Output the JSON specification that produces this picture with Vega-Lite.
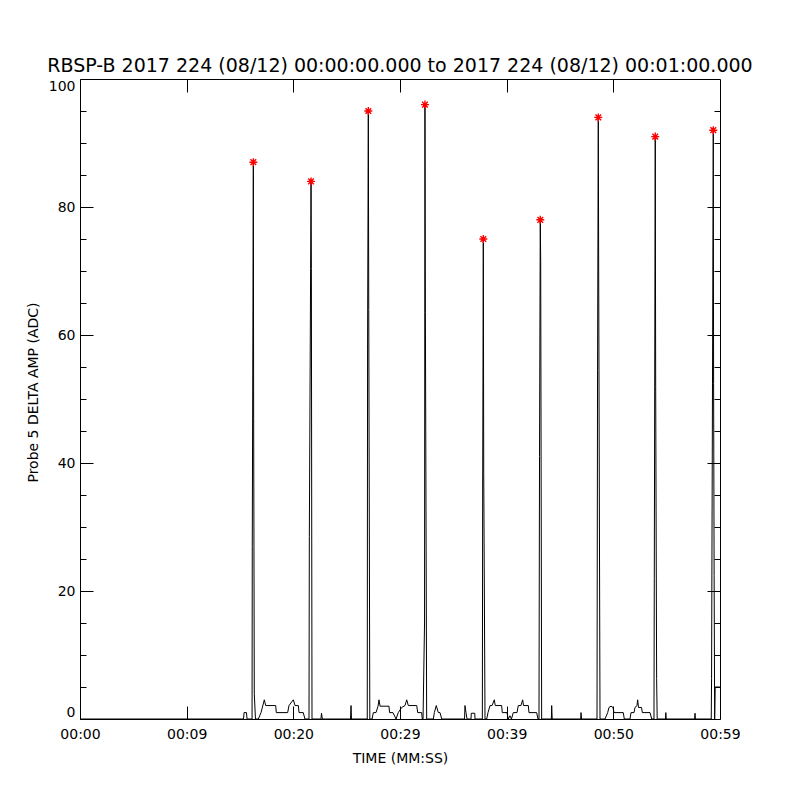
{
  "$schema": "https://vega.github.io/schema/vega-lite/v6.json",
  "width": 640,
  "height": 640,
  "autosize": {"type": "none"},
  "padding": {"left": 80, "top": 79, "right": 80, "bottom": 81},
  "background": "white",
  "title": {"text": "RBSP-B 2017 224 (08/12) 00:00:00.000 to 2017 224 (08/12) 00:01:00.000", "font": "DejaVu Sans", "fontSize": 19, "fontWeight": "normal", "color": "black", "anchor": "middle", "offset": 3},
  "datasets": {
    "series": [
      {"t": 0, "v": 0}, {"t": 15.33, "v": 0}, {"t": 15.38, "v": 1.0}, {"t": 15.61, "v": 1.0}, {"t": 15.66, "v": 0},
      {"t": 16.13, "v": 0}, {"t": 16.15, "v": 27}, {"t": 16.25, "v": 87}, {"t": 16.28, "v": 47}, {"t": 16.34, "v": 4}, {"t": 16.45, "v": 0},
      {"t": 16.72, "v": 0}, {"t": 16.97, "v": 1.0}, {"t": 17.28, "v": 3.0}, {"t": 17.41, "v": 2.1}, {"t": 18.35, "v": 2.1}, {"t": 18.4, "v": 1.0},
      {"t": 19.47, "v": 1.0}, {"t": 19.59, "v": 2.1}, {"t": 20.0, "v": 3.0}, {"t": 20.16, "v": 2.1}, {"t": 20.47, "v": 2.1}, {"t": 20.53, "v": 1.0},
      {"t": 20.93, "v": 1.0}, {"t": 21.09, "v": 0},
      {"t": 21.47, "v": 0}, {"t": 21.5, "v": 28.5}, {"t": 21.66, "v": 84}, {"t": 21.69, "v": 70.4}, {"t": 21.75, "v": 0},
      {"t": 22.59, "v": 0}, {"t": 22.64, "v": 0.9}, {"t": 22.72, "v": 0},
      {"t": 25.36, "v": 0}, {"t": 25.41, "v": 2.1}, {"t": 25.45, "v": 0},
      {"t": 26.93, "v": 0}, {"t": 26.96, "v": 57.8}, {"t": 27.03, "v": 95}, {"t": 27.07, "v": 64}, {"t": 27.17, "v": 0},
      {"t": 27.38, "v": 0}, {"t": 27.5, "v": 1.0}, {"t": 27.75, "v": 1.0}, {"t": 27.94, "v": 2.0}, {"t": 28.03, "v": 3.0}, {"t": 28.13, "v": 2.0},
      {"t": 28.97, "v": 2.0}, {"t": 29.02, "v": 1.0}, {"t": 29.34, "v": 1.0}, {"t": 29.63, "v": 0},
      {"t": 29.84, "v": 1.0}, {"t": 30.16, "v": 1.8}, {"t": 30.47, "v": 2.1}, {"t": 30.63, "v": 3.0}, {"t": 30.78, "v": 2.1}, {"t": 31.57, "v": 2.1},
      {"t": 31.66, "v": 1.0}, {"t": 32.03, "v": 1.0}, {"t": 32.09, "v": 0},
      {"t": 32.16, "v": 0}, {"t": 32.3, "v": 15}, {"t": 32.34, "v": 96}, {"t": 32.38, "v": 63.5}, {"t": 32.5, "v": 0},
      {"t": 33.13, "v": 0}, {"t": 33.22, "v": 1.0}, {"t": 33.4, "v": 2.1}, {"t": 33.59, "v": 1.0}, {"t": 33.75, "v": 1.0}, {"t": 33.91, "v": 0},
      {"t": 36.05, "v": 0}, {"t": 36.09, "v": 2.1}, {"t": 36.19, "v": 1.0}, {"t": 36.28, "v": 0},
      {"t": 36.66, "v": 0}, {"t": 36.68, "v": 0.9}, {"t": 37.01, "v": 0.9}, {"t": 37.03, "v": 0},
      {"t": 37.72, "v": 0}, {"t": 37.75, "v": 35}, {"t": 37.81, "v": 75}, {"t": 37.85, "v": 38.4}, {"t": 37.97, "v": 0},
      {"t": 38.13, "v": 0}, {"t": 38.25, "v": 1.0}, {"t": 38.44, "v": 2.1}, {"t": 38.63, "v": 2.1}, {"t": 38.84, "v": 3.0}, {"t": 38.93, "v": 2.1},
      {"t": 39.53, "v": 2.1}, {"t": 39.59, "v": 1.0}, {"t": 40.03, "v": 1.0}, {"t": 40.15, "v": 0}, {"t": 40.31, "v": 0.5}, {"t": 40.45, "v": 0},
      {"t": 40.62, "v": 1.0}, {"t": 40.97, "v": 1.0}, {"t": 41.09, "v": 2.1}, {"t": 41.34, "v": 2.1}, {"t": 41.5, "v": 3.0}, {"t": 41.58, "v": 2.1},
      {"t": 42.03, "v": 2.1}, {"t": 42.09, "v": 1.0}, {"t": 42.81, "v": 1.0}, {"t": 42.94, "v": 0},
      {"t": 43.03, "v": 0}, {"t": 43.08, "v": 41}, {"t": 43.15, "v": 78}, {"t": 43.19, "v": 71.5}, {"t": 43.28, "v": 0},
      {"t": 44.19, "v": 0}, {"t": 44.22, "v": 2.1}, {"t": 44.27, "v": 0},
      {"t": 46.94, "v": 0}, {"t": 46.97, "v": 1.0}, {"t": 47.02, "v": 0},
      {"t": 48.47, "v": 0}, {"t": 48.52, "v": 54.5}, {"t": 48.59, "v": 94}, {"t": 48.63, "v": 67.5}, {"t": 48.75, "v": 0},
      {"t": 49.22, "v": 0}, {"t": 49.47, "v": 1.0}, {"t": 49.59, "v": 1.8}, {"t": 49.78, "v": 2.0}, {"t": 49.97, "v": 1.8}, {"t": 50.06, "v": 1.0},
      {"t": 50.93, "v": 1.0}, {"t": 51.03, "v": 0},
      {"t": 51.56, "v": 0}, {"t": 51.66, "v": 1.0}, {"t": 51.94, "v": 1.0}, {"t": 52.03, "v": 1.8}, {"t": 52.22, "v": 2.1}, {"t": 52.28, "v": 3.0},
      {"t": 52.36, "v": 1.8}, {"t": 52.64, "v": 1.8}, {"t": 52.72, "v": 1.0}, {"t": 53.44, "v": 1.0}, {"t": 53.6, "v": 0},
      {"t": 53.81, "v": 0}, {"t": 53.84, "v": 22}, {"t": 53.93, "v": 91}, {"t": 53.97, "v": 52}, {"t": 54.06, "v": 6.3}, {"t": 54.11, "v": 0},
      {"t": 54.89, "v": 0}, {"t": 54.92, "v": 1.0}, {"t": 54.96, "v": 0},
      {"t": 57.62, "v": 0}, {"t": 57.66, "v": 0.9}, {"t": 57.69, "v": 0},
      {"t": 59.18, "v": 0}, {"t": 59.21, "v": 6.3}, {"t": 59.37, "v": 92}, {"t": 59.4, "v": 52.4}, {"t": 59.45, "v": 22.4}, {"t": 59.5, "v": 0},
      {"t": 59.55, "v": 5.0}, {"t": 60, "v": 5.0}
    ],
    "peaks": [
      {"t": 16.25, "v": 87}, {"t": 21.66, "v": 84}, {"t": 27.03, "v": 95}, {"t": 32.34, "v": 96}, {"t": 37.81, "v": 75},
      {"t": 43.15, "v": 78}, {"t": 48.59, "v": 94}, {"t": 53.93, "v": 91}, {"t": 59.37, "v": 92}
    ]
  },
  "resolve": {"axis": {"x": "independent", "y": "independent"}},
  "layer": [
    {
      "data": {"name": "series"},
      "mark": {"type": "line", "color": "black", "strokeWidth": 1, "interpolate": "linear"},
      "encoding": {
        "x": {"field": "t", "type": "quantitative", "scale": {"domain": [0, 60], "nice": false, "zero": false},
          "axis": {"orient": "bottom", "values": [0, 10, 20, 30, 40, 50, 60], "tickSize": -13, "labelPadding": 21, "labelFlush": false,
            "labelExpr": "['00:00','00:09','00:20','00:29','00:39','00:50','00:59'][round(datum.value/10)]",
            "title": "TIME (MM:SS)", "titleX": 320, "titleY": 39, "titleAlign": "center", "titleBaseline": "middle"}},
        "y": {"field": "v", "type": "quantitative", "scale": {"domain": [0, 100], "nice": false, "zero": false},
          "axis": {"orient": "left", "values": [0, 20, 40, 60, 80, 100], "tickSize": -13, "labelPadding": 18, "labelFlush": true,
            "title": "Probe 5 DELTA AMP (ADC)", "titleX": -47, "titleY": 313, "titleAngle": 270, "titleAlign": "center", "titleBaseline": "middle"}}
      }
    },
    {
      "data": {"name": "peaks"},
      "mark": {"type": "point", "shape": "M-1,0L1,0M0,-1L0,1M-0.71,-0.71L0.71,0.71M-0.71,0.71L0.71,-0.71", "filled": false, "stroke": "#ff0000", "strokeWidth": 1.4, "size": 64, "opacity": 1},
      "encoding": {
        "x": {"field": "t", "type": "quantitative", "scale": {"domain": [0, 60], "nice": false, "zero": false},
          "axis": {"orient": "top", "values": [10, 20, 30, 40, 50], "tickSize": -13, "labels": false, "title": null}},
        "y": {"field": "v", "type": "quantitative", "scale": {"domain": [0, 100], "nice": false, "zero": false},
          "axis": {"orient": "left", "values": [5, 10, 15, 25, 30, 35, 45, 50, 55, 65, 70, 75, 85, 90, 95], "tickSize": -6, "labels": false, "title": null}}
      }
    },
    {
      "data": {"name": "peaks"},
      "mark": {"type": "point", "shape": "circle", "filled": true, "color": "#ff0000", "size": 9, "opacity": 1},
      "encoding": {
        "x": {"field": "t", "type": "quantitative", "axis": null},
        "y": {"field": "v", "type": "quantitative",
          "axis": {"orient": "right", "values": [20, 40, 60, 80], "tickSize": -13, "labels": false, "title": null}}
      }
    },
    {
      "data": {"name": "peaks"},
      "mark": {"type": "point", "shape": "circle", "filled": true, "color": "#ff0000", "size": 9, "opacity": 0},
      "encoding": {
        "x": {"field": "t", "type": "quantitative", "axis": null},
        "y": {"field": "v", "type": "quantitative",
          "axis": {"orient": "right", "values": [5, 10, 15, 25, 30, 35, 45, 50, 55, 65, 70, 75, 85, 90, 95], "tickSize": -6, "labels": false, "title": null}}
      }
    }
  ],
  "config": {
    "view": {"stroke": "black", "strokeWidth": 1},
    "axis": {"domain": false, "grid": false, "labelFont": "DejaVu Sans", "labelFontSize": 14, "labelColor": "black", "tickColor": "black", "tickWidth": 1,
      "titleFont": "DejaVu Sans", "titleFontSize": 14, "titleFontWeight": "normal", "titleColor": "black", "labelOverlap": false}
  }
}
